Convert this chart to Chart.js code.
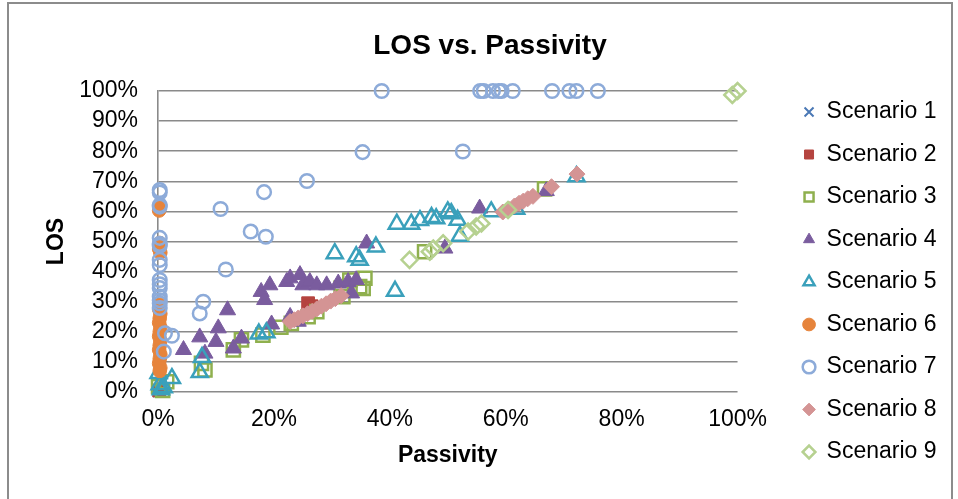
<!DOCTYPE html>
<html>
<head>
<meta charset="utf-8">
<script src="https://cdn.jsdelivr.net/npm/chart.js@4"></script>
<style>
  html, body { margin: 0; padding: 0; background: #fff; }
  #wrap { position: relative; width: 958px; height: 499px; overflow: hidden; background: #fff; }
  #frame { position: absolute; left: 7px; top: 2px; width: 946px; height: 520px; border: 2px solid #8c8c8c; box-sizing: border-box; pointer-events: none; }
  canvas { position: absolute; left: 0; top: 0; }
</style>
</head>
<body>
<div id="wrap">
  <canvas id="c" width="958" height="499"></canvas>
  <div id="frame"></div>
</div>
<script>
// ---- data (percent values: [Passivity, LOS]) ----
const seriesNames = ["Scenario 1","Scenario 2","Scenario 3","Scenario 4","Scenario 5","Scenario 6","Scenario 7","Scenario 8","Scenario 9"];
const xTicks = [0, 20, 40, 60, 80, 100];
const yTicks = [0, 10, 20, 30, 40, 50, 60, 70, 80, 90, 100];

const scenario1 = [[0,0],[0.2,0.3]];
const scenario2 = [[0.2,0.5],[25.9,29.5],[26.5,28.5]];
const scenario3 = [[0.1,1.8],[0.8,0.5],[1.5,3.4],[7.5,9.5],[8.1,7.3],[13,14],[14.4,17.3],[18.1,18.9],[21.2,21.5],[23,22.8],[25.9,25],[27.4,26.7],[31.6,34.5],[31.9,31.7],[33.1,37.2],[34.8,35],[35.4,34.4],[35.7,37.8],[46,46.6],[66.7,67.5]];
const scenario4 = [[4.4,14],[7.2,18.2],[8.1,12.8],[10,16.7],[10.4,21.2],[12,27.2],[13,14.5],[14.4,17.8],[17.8,33.3],[18.4,30.6],[19.3,35.5],[19.6,22.5],[22.2,36.6],[22.8,37.8],[22.8,25],[24.2,23.4],[24.5,38.9],[25,35.5],[26.2,36.6],[27.4,35.5],[29.1,35.5],[31.1,36.1],[32.8,36.6],[33.4,32.8],[34.2,37.2],[36,49.4],[49.5,47.7],[55.5,61],[67,66.8]];
const scenario5 = [[0.1,6.2],[0.3,2.5],[0.5,0.8],[1,1.5],[2.4,4.5],[7.2,6.5],[7.6,11.5],[17.4,19.3],[18.7,19.7],[30.5,46],[34.2,45],[34.8,43.8],[37.6,48.2],[40.9,33.5],[41.2,55.8],[43.7,55.8],[45.2,57],[47.2,58],[48,57.6],[50,59.9],[50.6,59.3],[51.7,57.1],[52.1,51.8],[57.5,59.9],[61.8,60.8],[72.2,71.6]];
const scenario6 = [[0.3,61.5],[0.2,60.3],[0.3,49.5],[0.2,47.5],[0.4,46.3],[0.3,29],[0.2,27.5],[0.4,26],[0.3,24.5],[0.2,23],[0.4,21.5],[0.3,20],[0.2,18.5],[0.4,17],[0.3,15.5],[0.2,14],[0.4,12.5],[0.3,11],[0.2,9.5],[0.4,8],[0.3,7]];
const scenario7 = [[38.6,100],[55.6,100],[56.2,100],[57.8,100],[58.8,100],[59.3,100],[61.2,100],[68,100],[71,100],[72.2,100],[75.9,100],[35.3,79.7],[52.6,79.9],[25.7,70.1],[18.3,66.4],[10.8,60.8],[16,53.3],[18.6,51.6],[11.7,40.7],[7.8,30],[7.2,26.1],[1.2,19.5],[2.4,18.7],[1.0,13.4],[0.3,67.1],[0.3,66.3],[0.3,62.1],[0.3,61.6],[0.3,51.2],[0.3,49.2],[0.3,48.6],[0.3,43.9],[0.3,42.2],[0.3,37.2],[0.3,35.8],[0.3,34.5],[0.3,31.7],[0.3,30.5],[0.3,29.5],[0.3,27.9]];
const scenario8 = [[22.8,23.4],[23.5,24],[24.2,24.6],[25,25.3],[25.8,26],[26.6,26.8],[27.4,27.6],[28.2,28.5],[29,29.3],[29.8,30.2],[30.6,31],[31.6,32],[59.5,59.8],[60.5,60.8],[61.5,61.8],[62.3,62.7],[63,63.4],[63.8,64.2],[64.7,65],[67.9,68.2],[72.3,72.4]];
const scenario9 = [[43.4,43.9],[46.9,46.6],[47.5,47.7],[49.2,49.4],[53.5,53.3],[54.9,55],[55.8,56],[60.4,60.5],[99.1,98.7],[100,100]];

const allSeries = [scenario1, scenario2, scenario3, scenario4, scenario5, scenario6, scenario7, scenario8, scenario9];

// ---- styles ----
const NONE = 'rgba(255,255,255,0)';
const styles = [
  {pointStyle:'crossRot', bg:NONE, border:'#4a78b5', bw:2, r:7},
  {pointStyle:'rect', bg:'#b5443f', border:'#b5443f', bw:1, r:9},
  {pointStyle:'rect', bg:NONE, border:'#8fb04e', bw:2.5, r:9.3},
  {pointStyle:'triangle', bg:'#7a5c9e', border:'#7a5c9e', bw:1, r:9.3},
  {pointStyle:'triangle', bg:NONE, border:'#3aa0bb', bw:2.5, r:9.3},
  {pointStyle:'circle', bg:'#e6843c', border:'#e6843c', bw:1, r:6.8},
  {pointStyle:'circle', bg:NONE, border:'#8dabd9', bw:2.5, r:6.8},
  {pointStyle:'rectRot', bg:'#d49494', border:'#d49494', bw:1, r:8},
  {pointStyle:'rectRot', bg:NONE, border:'#b6d190', bw:2.5, r:8}
];

const datasets = allSeries.map((s, i) => ({
  label: seriesNames[i],
  data: s.map(p => ({x: p[0], y: p[1]})),
  pointStyle: styles[i].pointStyle,
  backgroundColor: styles[i].bg,
  borderColor: styles[i].border,
  borderWidth: styles[i].bw,
  pointRadius: styles[i].r,
  pointHoverRadius: styles[i].r,
  showLine: false,
  clip: false,
  order: allSeries.length - i
}));

const FONT = "'Liberation Sans', Arial, sans-serif";
const GRID = '#8a8a8a';

new Chart(document.getElementById('c'), {
  type: 'scatter',
  data: { datasets },
  options: {
    responsive: false,
    animation: false,
    devicePixelRatio: 1,
    layout: { padding: { left: 33.5, right: 11.5, top: 0, bottom: 16 } },
    plugins: {
      tooltip: { enabled: false },
      title: {
        display: true,
        text: 'LOS vs. Passivity',
        color: '#000',
        font: { family: FONT, size: 28, weight: 'bold', lineHeight: 1.2 },
        padding: { top: 29.2, bottom: 28.2 }
      },
      legend: {
        position: 'right',
        align: 'end',
        labels: {
          usePointStyle: true,
          boxWidth: 12,
          boxHeight: 9,
          padding: 19.5,
          color: '#000',
          font: { family: FONT, size: 23 },
          sort: (a, b) => a.datasetIndex - b.datasetIndex
        }
      }
    },
    scales: {
      x: {
        type: 'linear',
        min: xTicks[0],
        max: xTicks[xTicks.length - 1],
        afterFit: s => { s.height = 91; },
        grid: { display: false, drawTicks: false },
        border: { display: false },
        ticks: {
          stepSize: xTicks[1] - xTicks[0],
          color: '#000',
          padding: 14,
          maxRotation: 0,
          autoSkip: false,
          font: { family: FONT, size: 23 },
          callback: v => v + '%'
        },
        title: {
          display: true,
          text: 'Passivity',
          color: '#000',
          font: { family: FONT, size: 23, weight: 'bold', lineHeight: 1.2 },
          padding: { top: 0, bottom: 13.2 }
        }
      },
      y: {
        type: 'linear',
        min: yTicks[0],
        max: yTicks[yTicks.length - 1],
        afterFit: s => { s.width = 124.5; },
        grid: { color: GRID, lineWidth: 1.6, drawTicks: false },
        border: { display: true, color: GRID, width: 1.6 },
        ticks: {
          stepSize: yTicks[1] - yTicks[0],
          color: '#000',
          padding: 20,
          autoSkip: false,
          font: { family: FONT, size: 23 },
          callback: v => v + '%'
        },
        title: {
          display: true,
          text: 'LOS',
          color: '#000',
          font: { family: FONT, size: 23, weight: 'bold', lineHeight: 1.2 },
          padding: { top: 9.7, bottom: 0 }
        }
      },
      yGap: {
        type: 'linear',
        position: 'right',
        display: false,
        afterFit: s => { s.width = 46; },
        grid: { display: false, drawTicks: false },
        border: { display: false },
        ticks: { display: false }
      }
    }
  }
});
</script>
</body>
</html>
